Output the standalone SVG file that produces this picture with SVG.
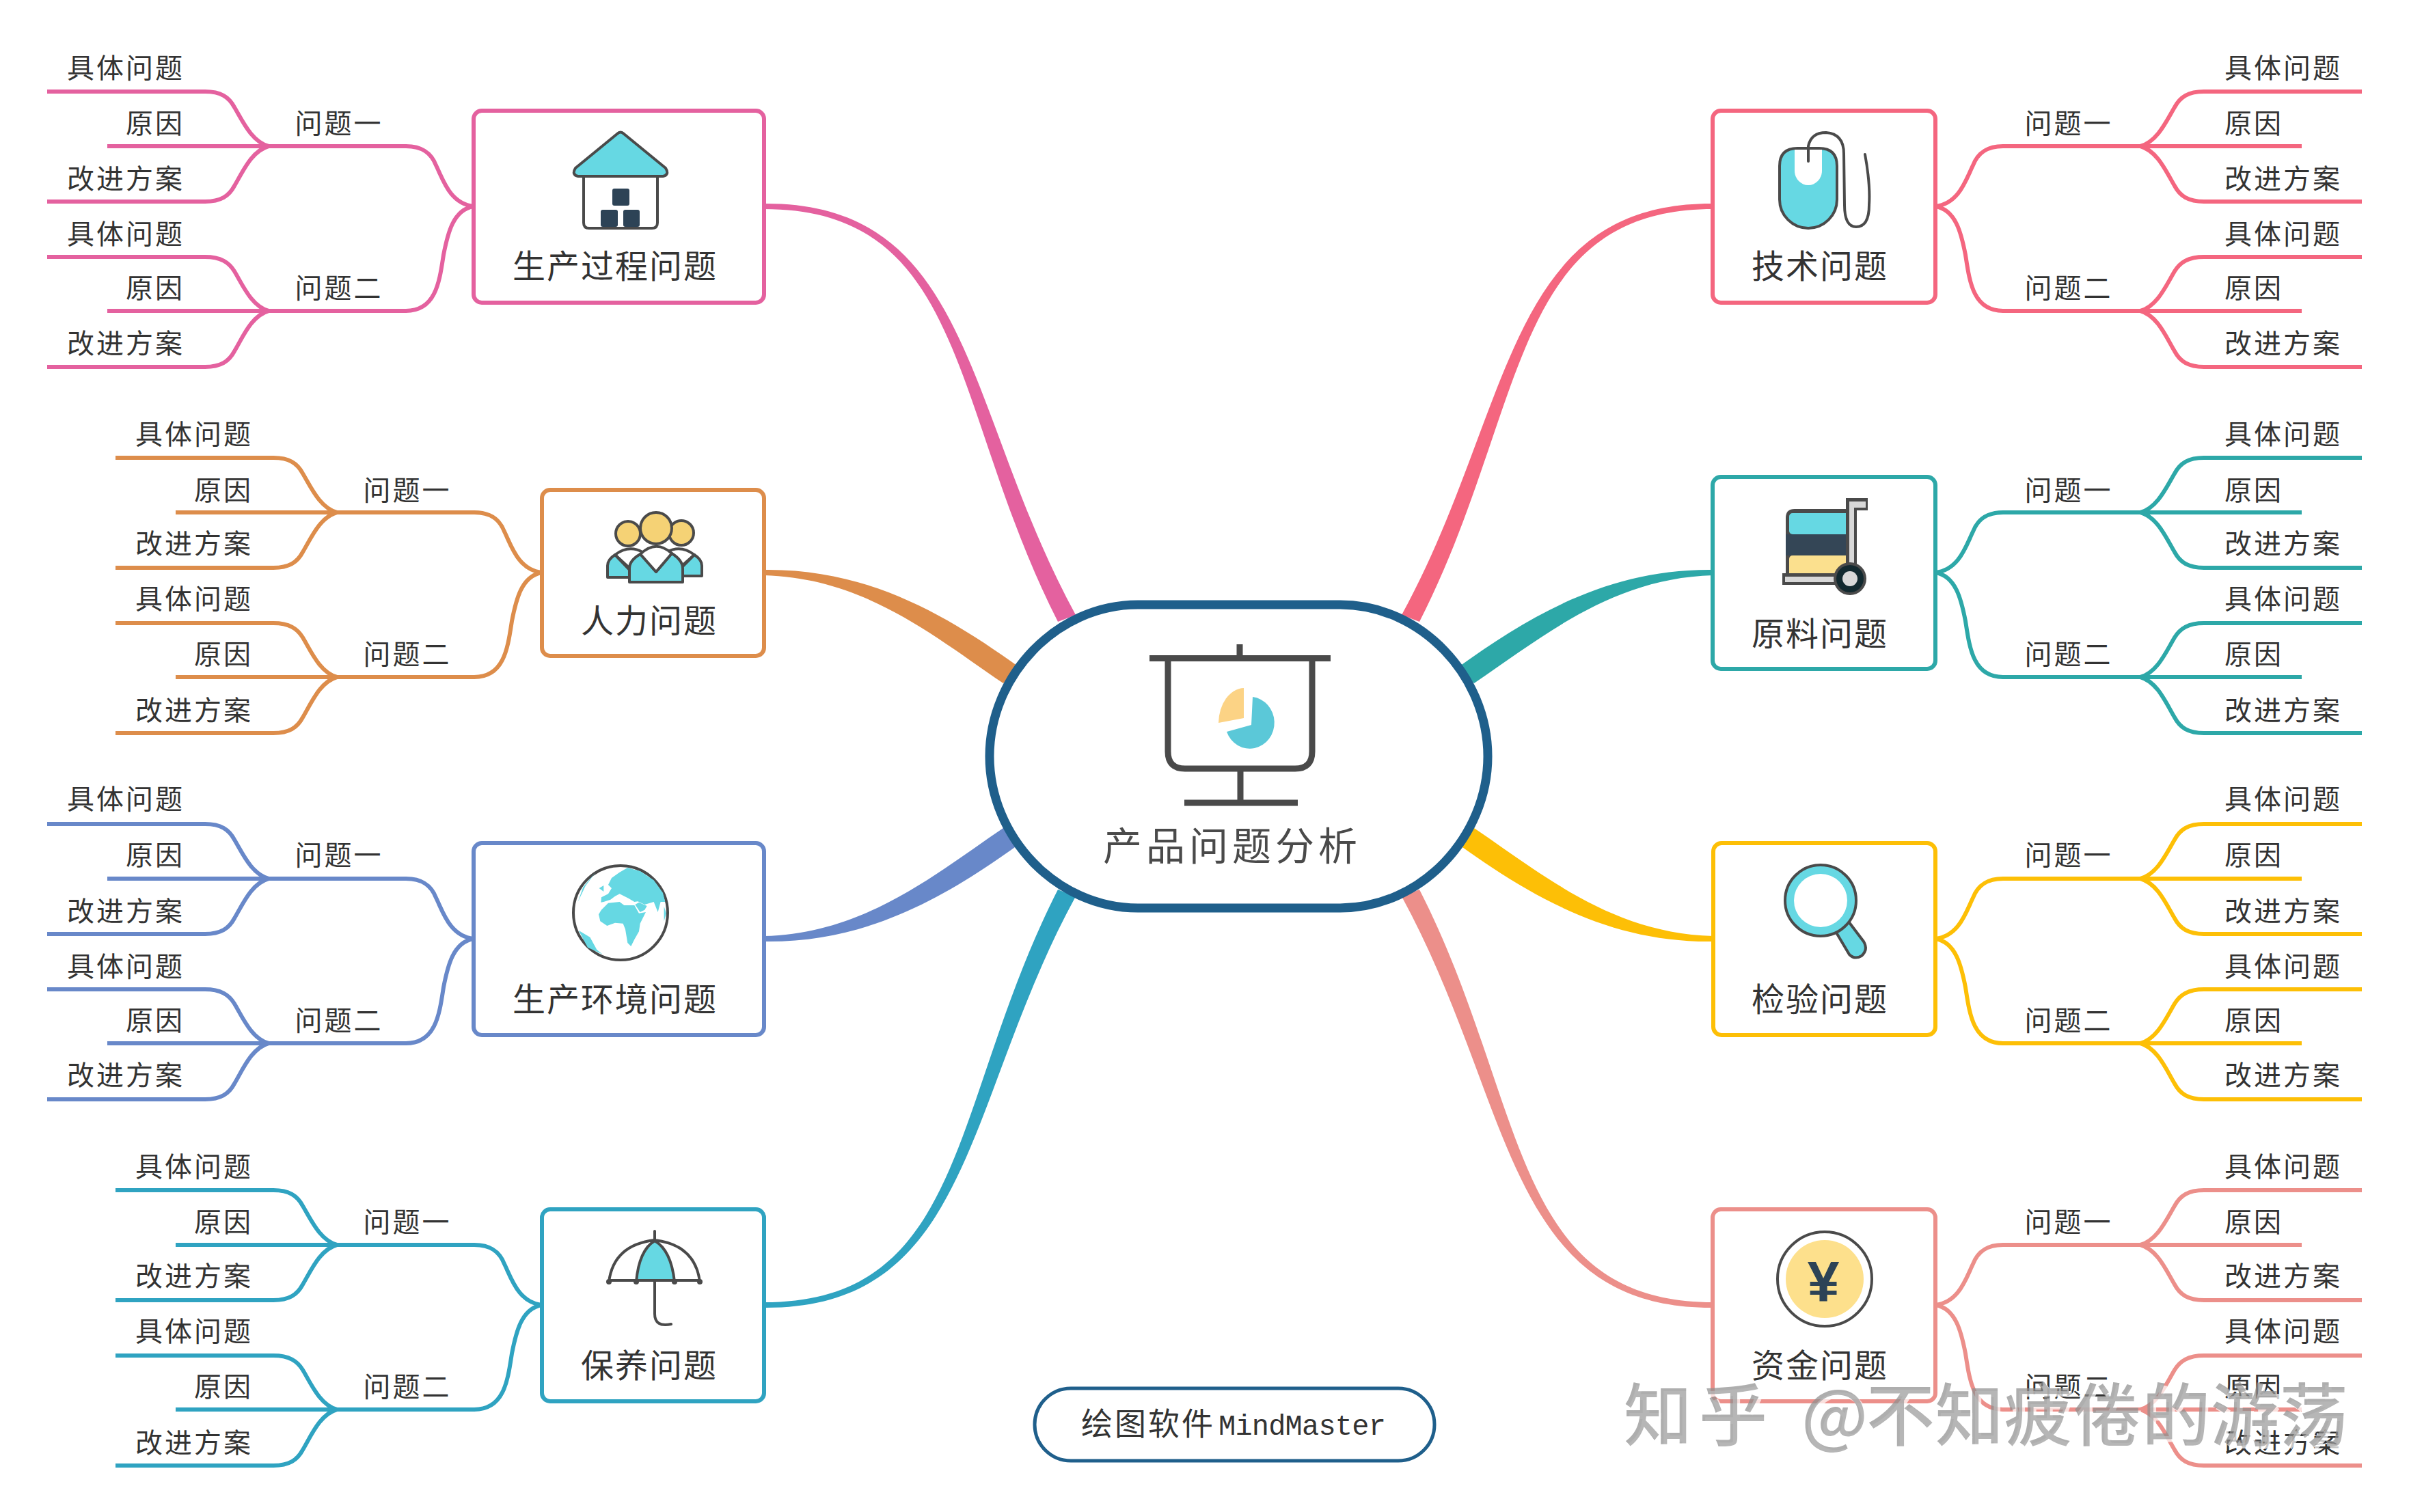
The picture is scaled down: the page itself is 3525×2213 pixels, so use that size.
<svg xmlns="http://www.w3.org/2000/svg" xmlns:xlink="http://www.w3.org/1999/xlink" width="3525" height="2213" viewBox="0 0 3525 2213">
<style>
text{font-family:"Noto Sans CJK SC","Noto Sans",sans-serif;fill:#333}
.l,.r,.m{font-size:40px;letter-spacing:3px}
.l{text-anchor:end}.r{text-anchor:start}.m{text-anchor:middle}
.h{font-size:48px;letter-spacing:2px;text-anchor:middle}
.box{fill:#fff;stroke-width:6}
.ln{fill:none;stroke-width:6}
.ic{stroke:#4a4a4a;stroke-width:4;stroke-linejoin:round;stroke-linecap:round}
.cy{fill:#66d8e3}.wh{fill:#fff}.dk{fill:#2d4356}.no{fill:none}
</style>
<defs>
<path id="cLong" d="M1118,298C1423,296 1410,600 1574,900L1548,910C1390,600 1416,306 1118,306Z"/>
<path id="cShort" d="M1118,834C1270,832 1385,900 1492,977L1468,1000C1365,930 1265,846 1118,842Z"/>
<filter id="wm" x="-5%" y="-20%" width="110%" height="140%"><feDropShadow dx="4" dy="4" stdDeviation="0" flood-color="#fff" flood-opacity="1"/></filter>
<g id="branch" class="ln">
<path d="M0,0C-35,-4 -45,-40 -55,-60C-62,-78 -75,-88 -99,-88H-304"/>
<path d="M0,0C-30,5 -38,40 -44,71C-50,110 -55,153 -99,153H-304"/>
<path d="M-300,-88C-325,-95 -338,-125 -350,-145C-358,-160 -370,-168 -393,-168H-624"/>
<path d="M-300,-88H-536"/>
<path d="M-300,-88C-325,-81 -338,-50 -350,-30C-358,-15 -370,-7 -393,-7H-624"/>
<path d="M-300,153C-325,146 -338,115 -350,95C-358,82 -370,74 -393,74H-624"/>
<path d="M-300,153H-536"/>
<path d="M-300,153C-325,160 -338,192 -350,212C-358,227 -370,235 -393,235H-624"/>
</g>
</defs>
<rect width="3525" height="2213" fill="#fff"/>
<g id="connectors">
<use href="#cLong" fill="#e4619f"/>
<use href="#cShort" fill="#dd8d4b"/>
<use href="#cShort" fill="#6888c9" transform="matrix(1 0 0 -1 0 2212)"/>
<use href="#cLong" fill="#2fa3c1" transform="matrix(1 0 0 -1 0 2212)"/>
<use href="#cLong" fill="#f4667f" transform="matrix(-1 0 0 1 3625 0)"/>
<use href="#cShort" fill="#2da8a8" transform="matrix(-1 0 0 1 3625 0)"/>
<use href="#cShort" fill="#fdbf06" transform="matrix(-1 0 0 -1 3625 2212)"/>
<use href="#cLong" fill="#ec8f8a" transform="matrix(-1 0 0 -1 3625 2212)"/>
<use href="#branch" stroke="#e4619f" transform="translate(693,302)"/>
<use href="#branch" stroke="#dd8d4b" transform="translate(793,838)"/>
<use href="#branch" stroke="#6888c9" transform="translate(693,1374)"/>
<use href="#branch" stroke="#2fa3c1" transform="translate(793,1910)"/>
<use href="#branch" stroke="#f4667f" transform="matrix(-1 0 0 1 2832 302)"/>
<use href="#branch" stroke="#2da8a8" transform="matrix(-1 0 0 1 2832 838)"/>
<use href="#branch" stroke="#fdbf06" transform="matrix(-1 0 0 1 2832 1374)"/>
<use href="#branch" stroke="#ec8f8a" transform="matrix(-1 0 0 1 2832 1910)"/>
</g>
<g id="center">
<path d="M1665,885H1961C2080,885 2177,990 2177,1107C2177,1224 2080,1329 1961,1329H1665C1545,1329 1448,1224 1448,1107C1448,990 1545,885 1665,885Z" fill="#fff" stroke="#1f5f8b" stroke-width="13"/>
<path d="M1814,943V960M1682,963.5H1947M1709,968V1100Q1709,1125 1734,1125H1895Q1920,1125 1920,1100V968M1815,1125V1175M1733,1175H1899" fill="none" stroke="#4a4a4a" stroke-width="9"/>
<path d="M1820,1007A38,52 0 0 0 1783,1058L1820,1051Z" fill="#fcd385"/>
<path d="M1833,1020A36,38 0 1 1 1795,1071L1831,1061Z" fill="#5bc8d8"/>
<text x="1803" y="1259" style="font-size:57px;letter-spacing:6px;text-anchor:middle;fill:#4a4a4a">产品问题分析</text>
</g>
<g id="n1"><rect class="box" x="693" y="162" width="425" height="281" rx="12" stroke="#e4619f"/>
<path class="ic wh" d="M854,256V326Q854,334 862,334H954Q962,334 962,326V256Z"/>
<path class="ic cy" d="M903,196Q908,191 913,196L974,246Q980,256 970,258H846Q836,256 842,246Z"/>
<rect class="dk" x="896" y="276" width="25" height="25" rx="3"/><rect class="dk" x="879" y="307" width="25" height="25" rx="3"/><rect class="dk" x="912" y="307" width="24" height="25" rx="3"/>
<text class="h" x="900" y="407">生产过程问题</text></g>
<g id="n2"><rect class="box" x="793" y="717" width="325" height="243" rx="12" stroke="#dd8d4b"/>
<circle class="ic" cx="919" cy="781" r="18" fill="#f5d275"/><circle class="ic" cx="997" cy="780" r="18" fill="#f5d275"/>
<path class="ic wh" d="M900,812Q920,797 940,808L925,835Z"/><path class="ic cy" d="M889,845V828Q889,819 900,812L925,838V845Z"/>
<path class="ic wh" d="M1016,812Q996,797 976,808L990,835Z"/><path class="ic cy" d="M1027,843V828Q1027,819 1016,812L990,838V843Z"/>
<path class="ic cy" d="M921,852V832Q921,820 937,811L960,837L983,810Q999,820 999,832V852Z"/><path class="ic wh" d="M937,811Q960,789 983,810L960,837Z"/>
<circle class="ic" cx="960" cy="773" r="23" fill="#f5d275"/>
<text class="h" x="950" y="926">人力问题</text></g>
<g id="n3"><rect class="box" x="693" y="1234" width="425" height="281" rx="12" stroke="#6888c9"/>
<circle class="ic wh" cx="908" cy="1336" r="69"/>
<g transform="translate(680,1220) scale(.3333)" class="cy">
<path d="M715,150L770,165L830,205L870,260L880,300L860,300L848,345L830,300L790,312L760,298L745,300L720,285L680,265L660,275L640,290L610,300L598,302L600,280L630,265L645,240L630,225L645,195L680,170Z"/>
<path d="M765,302L800,318L790,335L770,345L748,312Z"/>
<path d="M600,335L630,305L680,300L700,315L745,315L765,350L795,345L770,395L765,430L745,465L730,495L715,480L705,420L695,395L660,392L625,405L595,385L588,355Z"/>
<path d="M590,240L610,228L610,255Z"/><path d="M500,425L550,455L580,510L605,530L540,500Z"/><path d="M875,320L885,350L875,385Z"/><path d="M497,300L520,235L575,170L530,230Z"/>
</g>
<text class="h" x="900" y="1480">生产环境问题</text></g>
<g id="n4"><rect class="box" x="793" y="1770" width="325" height="281" rx="12" stroke="#2fa3c1"/>
<path class="cy" d="M931,1874Q935,1830 958,1816Q982,1830 987,1874Z"/>
<path class="ic no" d="M891,1876Q898,1822 958,1815Q1017,1822 1024,1876M931,1876Q935,1830 958,1816Q982,1830 987,1876M891,1874H1024M958,1815V1802M958,1874V1923Q958,1943 982,1938"/>
<circle cx="891" cy="1876" r="4" fill="#4a4a4a"/><circle cx="931" cy="1876" r="4" fill="#4a4a4a"/><circle cx="987" cy="1876" r="4" fill="#4a4a4a"/><circle cx="1024" cy="1876" r="4" fill="#4a4a4a"/>
<text class="h" x="950" y="2016">保养问题</text></g>
<g id="n5"><rect class="box" x="2506" y="162" width="326" height="281" rx="12" stroke="#f4667f"/>
<path class="ic cy" d="M2604,243Q2604,217 2630,217H2662Q2688,217 2688,243V292A42,42 0 0 1 2604,292Z"/>
<path class="wh" d="M2626,219H2666V250A20,21 0 0 1 2626,250Z"/>
<path class="ic no" d="M2646,236V214Q2650,194 2672,194Q2698,196 2698,225L2699,300Q2699,332 2716,332Q2735,332 2735,300Q2737,270 2729,226"/>
<text class="h" x="2663" y="407">技术问题</text></g>
<g id="n6"><rect class="box" x="2506" y="698" width="326" height="281" rx="12" stroke="#2da8a8"/>
<path d="M2613,758Q2613,745 2626,745H2706V845H2613Z" fill="#4a4a4a"/>
<rect class="cy" x="2618" y="751" width="88" height="31" rx="5"/><rect x="2613" y="782" width="93" height="31" fill="#344656"/><rect x="2618" y="813" width="88" height="31" rx="5" fill="#fbe08e"/>
<path d="M2701,729H2733V747H2717V840H2701Z" fill="#4a4a4a"/><path d="M2706,734H2730V743H2713V830H2706Z" fill="#d8d8d8"/>
<rect x="2608" y="839" width="85" height="17" fill="#4a4a4a"/><rect x="2612" y="844" width="78" height="8" fill="#d8d8d8"/>
<circle cx="2707" cy="847" r="24" fill="#4a4a4a"/><circle cx="2707" cy="847" r="20" fill="#12292f"/><circle cx="2707" cy="847" r="11" fill="#d8d8d8"/>
<text class="h" x="2663" y="945">原料问题</text></g>
<g id="n7"><rect class="box" x="2507" y="1234" width="325" height="281" rx="12" stroke="#fdbf06"/>
<path class="ic cy" d="M2687,1357L2702,1345L2727,1378Q2734,1390 2724,1399Q2714,1405 2706,1397L2684,1360Z"/>
<circle class="ic cy" cx="2664" cy="1318" r="52"/><circle class="wh" cx="2664" cy="1318" r="39"/>
<text class="h" x="2663" y="1480">检验问题</text></g>
<g id="n8"><rect class="box" x="2506" y="1770" width="326" height="281" rx="12" stroke="#ec8f8a"/>
<circle class="ic wh" cx="2670" cy="1872" r="69"/><circle cx="2670" cy="1872" r="57" fill="#fde08c"/>
<text x="2668" y="1905" style="font-family:'Liberation Sans',sans-serif;font-size:84px;font-weight:700;text-anchor:middle;fill:#2d4356">¥</text>
<text class="h" x="2663" y="2016">资金问题</text></g>
<g id="n1-q1-a"><text class="l" x="270" y="114">具体问题</text></g>
<g id="n1-q1-b"><text class="l" x="270" y="195">原因</text></g>
<g id="n1-q1"><text class="m" x="496" y="195">问题一</text></g>
<g id="n1-q1-c"><text class="l" x="270" y="276">改进方案</text></g>
<g id="n1-q2-a"><text class="l" x="270" y="357">具体问题</text></g>
<g id="n1-q2-b"><text class="l" x="270" y="436">原因</text></g>
<g id="n1-q2"><text class="m" x="496" y="436">问题二</text></g>
<g id="n1-q2-c"><text class="l" x="270" y="517">改进方案</text></g>
<g id="n2-q1-a"><text class="l" x="370" y="650">具体问题</text></g>
<g id="n2-q1-b"><text class="l" x="370" y="732">原因</text></g>
<g id="n2-q1"><text class="m" x="596" y="732">问题一</text></g>
<g id="n2-q1-c"><text class="l" x="370" y="810">改进方案</text></g>
<g id="n2-q2-a"><text class="l" x="370" y="891">具体问题</text></g>
<g id="n2-q2-b"><text class="l" x="370" y="972">原因</text></g>
<g id="n2-q2"><text class="m" x="596" y="972">问题二</text></g>
<g id="n2-q2-c"><text class="l" x="370" y="1054">改进方案</text></g>
<g id="n3-q1-a"><text class="l" x="270" y="1184">具体问题</text></g>
<g id="n3-q1-b"><text class="l" x="270" y="1266">原因</text></g>
<g id="n3-q1"><text class="m" x="496" y="1266">问题一</text></g>
<g id="n3-q1-c"><text class="l" x="270" y="1348">改进方案</text></g>
<g id="n3-q2-a"><text class="l" x="270" y="1429">具体问题</text></g>
<g id="n3-q2-b"><text class="l" x="270" y="1508">原因</text></g>
<g id="n3-q2"><text class="m" x="496" y="1508">问题二</text></g>
<g id="n3-q2-c"><text class="l" x="270" y="1588">改进方案</text></g>
<g id="n4-q1-a"><text class="l" x="370" y="1722">具体问题</text></g>
<g id="n4-q1-b"><text class="l" x="370" y="1803">原因</text></g>
<g id="n4-q1"><text class="m" x="596" y="1803">问题一</text></g>
<g id="n4-q1-c"><text class="l" x="370" y="1882">改进方案</text></g>
<g id="n4-q2-a"><text class="l" x="370" y="1963">具体问题</text></g>
<g id="n4-q2-b"><text class="l" x="370" y="2044">原因</text></g>
<g id="n4-q2"><text class="m" x="596" y="2044">问题二</text></g>
<g id="n4-q2-c"><text class="l" x="370" y="2126">改进方案</text></g>
<g id="n5-q1-a"><text class="r" x="3255" y="114">具体问题</text></g>
<g id="n5-q1-b"><text class="r" x="3255" y="195">原因</text></g>
<g id="n5-q1"><text class="m" x="3027" y="195">问题一</text></g>
<g id="n5-q1-c"><text class="r" x="3255" y="276">改进方案</text></g>
<g id="n5-q2-a"><text class="r" x="3255" y="357">具体问题</text></g>
<g id="n5-q2-b"><text class="r" x="3255" y="436">原因</text></g>
<g id="n5-q2"><text class="m" x="3027" y="436">问题二</text></g>
<g id="n5-q2-c"><text class="r" x="3255" y="517">改进方案</text></g>
<g id="n6-q1-a"><text class="r" x="3255" y="650">具体问题</text></g>
<g id="n6-q1-b"><text class="r" x="3255" y="732">原因</text></g>
<g id="n6-q1"><text class="m" x="3027" y="732">问题一</text></g>
<g id="n6-q1-c"><text class="r" x="3255" y="810">改进方案</text></g>
<g id="n6-q2-a"><text class="r" x="3255" y="891">具体问题</text></g>
<g id="n6-q2-b"><text class="r" x="3255" y="972">原因</text></g>
<g id="n6-q2"><text class="m" x="3027" y="972">问题二</text></g>
<g id="n6-q2-c"><text class="r" x="3255" y="1054">改进方案</text></g>
<g id="n7-q1-a"><text class="r" x="3255" y="1184">具体问题</text></g>
<g id="n7-q1-b"><text class="r" x="3255" y="1266">原因</text></g>
<g id="n7-q1"><text class="m" x="3027" y="1266">问题一</text></g>
<g id="n7-q1-c"><text class="r" x="3255" y="1348">改进方案</text></g>
<g id="n7-q2-a"><text class="r" x="3255" y="1429">具体问题</text></g>
<g id="n7-q2-b"><text class="r" x="3255" y="1508">原因</text></g>
<g id="n7-q2"><text class="m" x="3027" y="1508">问题二</text></g>
<g id="n7-q2-c"><text class="r" x="3255" y="1588">改进方案</text></g>
<g id="n8-q1-a"><text class="r" x="3255" y="1722">具体问题</text></g>
<g id="n8-q1-b"><text class="r" x="3255" y="1803">原因</text></g>
<g id="n8-q1"><text class="m" x="3027" y="1803">问题一</text></g>
<g id="n8-q1-c"><text class="r" x="3255" y="1882">改进方案</text></g>
<g id="n8-q2-a"><text class="r" x="3255" y="1963">具体问题</text></g>
<g id="n8-q2-b"><text class="r" x="3255" y="2044">原因</text></g>
<g id="n8-q2"><text class="m" x="3027" y="2044">问题二</text></g>
<g id="n8-q2-c"><text class="r" x="3255" y="2126">改进方案</text></g>
<g id="legend"><rect x="1514" y="2032" width="585" height="106" rx="53" fill="#fff" stroke="#1f5f8b" stroke-width="5"/>
<text x="1582" y="2100"><tspan style="font-size:46px;letter-spacing:3px">绘图软件</tspan><tspan x="1783" style="font-family:'Liberation Mono',monospace;font-size:42px;letter-spacing:-.8px">MindMaster</tspan></text></g>
<g id="watermark"><text y="2108" style="font-size:100px;font-weight:500;fill:#8f8f8f;fill-opacity:.72" filter="url(#wm)"><tspan x="2376" style="letter-spacing:10px">知乎 </tspan><tspan x="2636">@</tspan><tspan x="2731" style="letter-spacing:.8px">不知疲倦的游荡</tspan></text></g>
</svg>
